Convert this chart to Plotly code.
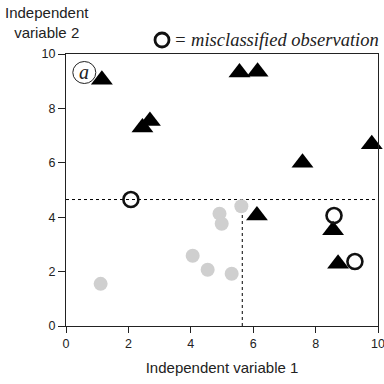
import plotly.graph_objects as go

# Group A (triangles)
tri_x = [1.15, 5.56, 6.14, 2.69, 2.45, 7.58, 9.8, 6.12, 8.56, 8.72]
tri_y = [9.05, 9.32, 9.35, 7.54, 7.30, 6.0, 6.68, 4.06, 3.52, 2.29]
# Group B (grey dots)
dot_x = [5.62, 4.92, 4.99, 4.06, 4.54, 5.31, 1.11]
dot_y = [4.40, 4.13, 3.76, 2.58, 2.07, 1.92, 1.55]
# Misclassified observations
mis_x = [2.08, 8.59, 9.26]
mis_y = [4.65, 4.06, 2.37]
# Split thresholds
split_x1 = 5.65
split_x2 = 4.65

ticks = [0, 2, 4, 6, 8, 10]

# plot area geometry in pixels (for paper-referenced decorations)
L, T, W, H = 66, 54, 312, 272


def px(xp):
    return (xp - L) / W


def py(yp):
    return (T + H - yp) / H


fig = go.Figure()
fig.add_trace(go.Scatter(x=dot_x, y=dot_y, mode="markers",
                         marker=dict(symbol="circle", size=14, color="#cfcfcf"),
                         cliponaxis=False))
fig.add_trace(go.Scatter(x=tri_x, y=tri_y, mode="markers",
                         marker=dict(symbol="triangle-up", size=19, color="black"),
                         cliponaxis=False))
fig.add_trace(go.Scatter(x=mis_x, y=mis_y, mode="markers",
                         marker=dict(symbol="circle-open", size=15, color="#111",
                                     line=dict(width=2.6, color="#111")),
                         cliponaxis=False))

# Dotted split lines
fig.add_shape(type="line", x0=0, x1=10, y0=split_x2, y1=split_x2,
              line=dict(color="black", width=1, dash="dot"), layer="below")
fig.add_shape(type="line", x0=split_x1, x1=split_x1, y0=0, y1=split_x2,
              line=dict(color="black", width=1, dash="dot"), layer="below")

# Legend for misclassified marker
r = 7
fig.add_shape(type="circle", xref="paper", yref="paper",
              x0=px(162 - r), x1=px(162 + r), y0=py(40 + r), y1=py(40 - r),
              line=dict(color="#111", width=2.8))
fig.add_annotation(xref="paper", yref="paper", x=px(172), y=py(40),
                   xanchor="left", yanchor="middle", showarrow=False,
                   text="<i>= misclassified observation</i>",
                   font=dict(family="Liberation Serif", size=18.5, color="#222"))

# Panel label
fig.add_shape(type="circle", xref="paper", yref="paper",
              x0=px(84.3 - 11.5), x1=px(84.3 + 11.5),
              y0=py(72.5 + 11), y1=py(72.5 - 11),
              line=dict(color="#222", width=1))
fig.add_annotation(xref="paper", yref="paper", x=px(84), y=py(71.5),
                   xanchor="center", yanchor="middle", showarrow=False,
                   text="<i>a</i>",
                   font=dict(family="Liberation Serif", size=20, color="#222"))

# Y-axis title placed above the axis
fig.add_annotation(xref="paper", yref="paper", x=px(47), y=py(22.5),
                   xanchor="center", yanchor="middle", showarrow=False,
                   text="Independent<br>variable 2",
                   font=dict(family="Liberation Sans", size=15, color="#222"))

axis_common = dict(showgrid=False, zeroline=False, showline=True, linecolor="#222",
                   linewidth=1.3, mirror=True, ticks="outside",
                   tickcolor="#222", tickwidth=1,
                   tickfont=dict(family="Liberation Sans", size=12.5, color="#222"),
                   tickvals=ticks, fixedrange=True, ticklabeloverflow="allow",
                   automargin=False)

fig.update_xaxes(range=[0, 10], ticklen=6,
                 title=dict(text="Independent variable 1",
                            font=dict(family="Liberation Sans", size=15, color="#222"),
                            standoff=12),
                 **axis_common)
fig.update_yaxes(range=[0, 10], ticklen=7, **axis_common)

fig.update_layout(width=384, height=384, showlegend=False,
                  margin=dict(l=L, r=384 - L - W, t=T, b=384 - T - H),
                  plot_bgcolor="white", paper_bgcolor="white")

fig.write_html("out.html")
